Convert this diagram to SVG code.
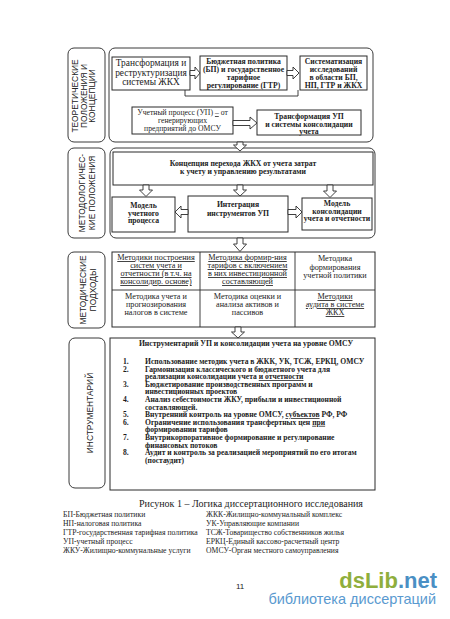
<svg xmlns="http://www.w3.org/2000/svg" width="450" height="619" viewBox="0 0 450 619">
<style>
.bg{fill:#fff}
.box{fill:#fff;stroke:#2a2a2a;stroke-width:1}
.frame{fill:none;stroke:#3a3a3a;stroke-width:1}
.arr{fill:#fff;stroke:#2a2a2a;stroke-width:0.9}
.ln{fill:none;stroke:#2a2a2a;stroke-width:0.9}
.lbl{font-family:"Liberation Sans",Arial,sans-serif;font-size:8.4px;fill:#222;text-anchor:middle}
.t{font-family:"Liberation Serif","Times New Roman",serif;fill:#1c1c1c;text-anchor:middle}
.n{font-size:9.4px}
.s{font-size:8.2px}
.d{font-size:7.7px}
.b{font-size:7.7px;font-weight:bold}
.u{text-decoration:underline}
.li{font-family:"Liberation Serif","Times New Roman",serif;font-size:7.6px;font-weight:bold;fill:#1c1c1c}
.lg{font-family:"Liberation Serif","Times New Roman",serif;font-size:7.7px;fill:#1c1c1c}
</style>
<rect class="bg" x="0" y="0" width="450" height="619"/>

<!-- Section 1 -->
<g id="sec1-label">
<rect class="frame" x="68" y="48" width="37" height="94" rx="6"/>
<text class="lbl" transform="translate(78,96) rotate(-90)">ТЕОРЕТИЧЕСКИЕ</text>
<text class="lbl" transform="translate(86.5,96) rotate(-90)">ПОЛОЖЕНИЯ И</text>
<text class="lbl" transform="translate(95,96) rotate(-90)">КОНЦЕПЦИИ</text>
</g>
<g id="sec1-frame"><rect class="frame" x="109" y="48" width="264" height="94" rx="6"/></g>
<g id="n-transform">
<rect class="box" x="112" y="57" width="78" height="33"/>
<text class="t n" x="151" y="66">Трансформация и</text>
<text class="t n" x="151" y="75.5">реструктуризация</text>
<text class="t n" x="151" y="85">системы ЖКХ</text>
</g>
<g id="n-bp">
<rect class="box" x="200" y="56" width="87" height="34"/>
<text class="t b" x="243.5" y="64">Бюджетная политика</text>
<text class="t b" x="243.5" y="71.5">(БП) и государственное</text>
<text class="t b" x="243.5" y="79.5">тарифное</text>
<text class="t b" x="243.5" y="87.5">регулирование (ГТР)</text>
</g>
<g id="n-sys">
<rect class="box" x="300" y="56" width="67" height="34"/>
<text class="t b" x="333.5" y="64">Систематизация</text>
<text class="t b" x="333.5" y="72">исследований</text>
<text class="t b" x="333.5" y="80">в области БП,</text>
<text class="t b" x="333.5" y="88">НП, ГТР и ЖКХ</text>
</g>
<g id="n-up">
<rect class="box" x="132" y="107" width="101" height="27"/>
<text class="t d" x="182.5" y="115">Учетный процесс (УП) <tspan class="u">–</tspan> от</text>
<text class="t d" x="182.5" y="123">генерирующих</text>
<text class="t d" x="182.5" y="131">предприятий до ОМСУ</text>
</g>
<g id="n-trup">
<rect class="box" x="257" y="110" width="104" height="25"/>
<text class="t b" x="309" y="119">Трансформация УП</text>
<text class="t b" x="309" y="126.5">и системы консолидации</text>
<text class="t b" x="309" y="134">учета</text>
</g>

<!-- Section 2 -->
<g id="sec2-label">
<rect class="frame" x="68" y="148" width="37" height="90" rx="6"/>
<text class="lbl" transform="translate(85,193) rotate(-90)">МЕТОДОЛОГИЧЕС-</text>
<text class="lbl" transform="translate(95,193) rotate(-90)">КИЕ ПОЛОЖЕНИЯ</text>
</g>
<g id="sec2-frame"><rect class="frame" x="110" y="148" width="265" height="90" rx="6"/></g>
<g id="n-concept">
<rect class="box" x="113" y="152" width="260" height="33"/>
<text class="t b" x="243" y="165.5">Концепция перехода ЖКХ от учета затрат</text>
<text class="t b" x="243" y="173.5">к учету и управлению результатами</text>
</g>
<g id="n-model-up">
<rect class="box" x="112" y="197" width="63" height="35"/>
<text class="t b" x="143.5" y="208">Модель</text>
<text class="t b" x="143.5" y="215.5">учетного</text>
<text class="t b" x="143.5" y="223">процесса</text>
</g>
<g id="n-integr">
<rect class="box" x="188" y="196" width="100" height="36"/>
<text class="t b" x="238" y="207">Интеграция</text>
<text class="t b" x="238" y="215.5">инструментов УП</text>
</g>
<g id="n-model-cons">
<rect class="box" x="302" y="198" width="70" height="32"/>
<text class="t b" x="337" y="206">Модель</text>
<text class="t b" x="337" y="213.5">консолидации</text>
<text class="t b" x="337" y="221">учета и отчетности</text>
</g>

<!-- Section 3 -->
<g id="sec3-label">
<rect class="frame" x="68" y="252" width="37" height="76" rx="6"/>
<text class="lbl" transform="translate(86,290) rotate(-90)">МЕТОДИЧЕСКИЕ</text>
<text class="lbl" transform="translate(96,290) rotate(-90)">ПОДХОДЫ</text>
</g>
<g id="n-table">
<rect class="box" x="112" y="252" width="263" height="75"/>
<line class="ln" x1="200" y1="252" x2="200" y2="327"/>
<line class="ln" x1="295" y1="252" x2="295" y2="327"/>
<line class="ln" x1="112" y1="290" x2="375" y2="290"/>
<text class="t s u" x="156" y="260">Методики построения</text>
<text class="t s u" x="156" y="268">систем учета и</text>
<text class="t s u" x="156" y="276">отчетности (в т.ч. на</text>
<text class="t s u" x="156" y="284">консолидир. основе)</text>
<text class="t s u" x="247.5" y="260">Методика формир-ния</text>
<text class="t s u" x="247.5" y="268">тарифов с включением</text>
<text class="t s u" x="247.5" y="276">в них инвестиционной</text>
<text class="t s u" x="247.5" y="284">составляющей</text>
<text class="t s" x="335" y="261">Методика</text>
<text class="t s" x="335" y="269.5">формирования</text>
<text class="t s" x="335" y="278">учетной политики</text>
<text class="t s" x="156" y="299">Методика учета и</text>
<text class="t s" x="156" y="307">прогнозирования</text>
<text class="t s" x="156" y="315">налогов в системе</text>
<text class="t s" x="247.5" y="299">Методика оценки и</text>
<text class="t s" x="247.5" y="307">анализа активов и</text>
<text class="t s" x="247.5" y="315">пассивов</text>
<text class="t s u" x="335" y="299">Методики</text>
<text class="t s u" x="335" y="307">аудита в системе</text>
<text class="t s u" x="335" y="315">ЖКХ</text>
</g>

<!-- Section 4 -->
<g id="sec4-label">
<rect class="frame" x="69" y="338" width="36" height="150" rx="6"/>
<text class="lbl" transform="translate(93,413) rotate(-90)">ИНСТРУМЕНТАРИЙ</text>
</g>
<g id="n-tools">
<rect class="box" x="110" y="338" width="265" height="152"/>
<text class="t b" x="246" y="346">Инструментарий УП и консолидации учета на уровне ОМСУ</text>
<g class="li">
<text x="123" y="364">1.</text><text x="145" y="364">Использование методик учета в ЖКК, УК, ТСЖ, ЕРКЦ, ОМСУ</text>
<text x="123" y="371.6">2.</text><text x="145" y="371.6">Гармонизация классического и бюджетного учета для</text>
<text x="145" y="379.2">реализации консолидации учета <tspan class="u">и отчетности</tspan></text>
<text x="123" y="386.8">3.</text><text x="145" y="386.8">Бюджетирование производственных программ и</text>
<text x="145" y="394.4">инвестиционных проектов</text>
<text x="123" y="402">4.</text><text x="145" y="402">Анализ себестоимости ЖКУ, прибыли и инвестиционной</text>
<text x="145" y="409.6">составляющей.</text>
<text x="123" y="417.2">5.</text><text x="145" y="417.2">Внутренний контроль на уровне ОМСУ, <tspan class="u">субъектов</tspan> РФ, РФ</text>
<text x="123" y="424.8">6.</text><text x="145" y="424.8">Ограничение использования трансфертных цен <tspan class="u">при</tspan></text>
<text x="145" y="432.4">формировании тарифов</text>
<text x="123" y="440">7.</text><text x="145" y="440">Внутрикорпоративное формирование и регулирование</text>
<text x="145" y="447.6">финансовых потоков</text>
<text x="123" y="455.2">8.</text><text x="145" y="455.2">Аудит и контроль за реализацией  мероприятий  по его итогам</text>
<text x="145" y="462.8">(постаудит)</text>
</g>
</g>

<!-- Connectors -->
<g id="connectors">
<path class="arr" d="M190,70.5 H195 V67 L200,73 L195,79 V75.5 H190 Z"/>
<path class="arr" d="M287,70.5 H293 V67 L299,73 L293,79 V75.5 H287 Z"/>
<path class="ln" d="M185,90 V96 H298 V90"/>
<path class="arr" d="M233,120.5 H250 V117 L257,123 L250,129 V125.5 H233 Z"/>
<path class="arr" d="M237,142 V145 H233.5 L240,151 L246.5,145 H243 V142 Z"/>
<path class="arr" d="M143,185 V190 H139.5 L146,196.5 L152.5,190 H149 V185 Z"/>
<path class="arr" d="M237,185 V190 H233.5 L240,196 L246.5,190 H243 V185 Z"/>
<path class="arr" d="M327,185 V191 H323.5 L330,197.5 L336.5,191 H333 V185 Z"/>
<path class="arr" d="M188,209.5 H181 V206 L175,212 L181,218 V214.5 H188 Z"/>
<path class="arr" d="M288,209.5 H296 V206 L302,212 L296,218 V214.5 H288 Z"/>
<path class="arr" d="M237,238 V244 H233.5 L240,251.5 L246.5,244 H243 V238 Z"/>
<path class="arr" d="M235,327 V332 H231.5 L238,338 L244.5,332 H241 V327 Z"/>
</g>

<!-- Caption and legend -->
<g id="caption">
<text class="t" style="font-size:10px" x="251" y="507">Рисунок 1 – Логика диссертационного исследования</text>
</g>
<g id="legend">
<text class="lg" x="63" y="517">БП-Бюджетная политики</text>
<text class="lg" x="63" y="526">НП-налоговая политика</text>
<text class="lg" x="63" y="535">ГТР-государственная тарифная политика</text>
<text class="lg" x="63" y="544">УП-учетный процесс</text>
<text class="lg" x="63" y="553">ЖКУ-Жилищно-коммунальные услуги</text>
<text class="lg" x="206" y="517">ЖКК-Жилищно-коммунальный комплекс</text>
<text class="lg" x="206" y="526">УК-Управляющие компании</text>
<text class="lg" x="206" y="535">ТСЖ-Товарищество собственников жилья</text>
<text class="lg" x="206" y="544">ЕРКЦ-Единый кассово-расчетный центр</text>
<text class="lg" x="206" y="553">ОМСУ-Орган местного самоуправления</text>
</g>
<g id="footer">
<text style="font-family:'Liberation Sans',Arial,sans-serif;font-size:8px;fill:#222" x="236" y="589">11</text>
<text style="font-family:'Liberation Sans',Arial,sans-serif;font-size:22px;font-weight:bold;text-anchor:end" x="437" y="588"><tspan fill="#8fae3c">dsLib</tspan><tspan fill="#4a8fc4">.net</tspan></text>
<text style="font-family:'Liberation Sans',Arial,sans-serif;font-size:14.5px;fill:#5a9ad0;text-anchor:end" x="436" y="604">библиотека диссертаций</text>
</g>
</svg>
